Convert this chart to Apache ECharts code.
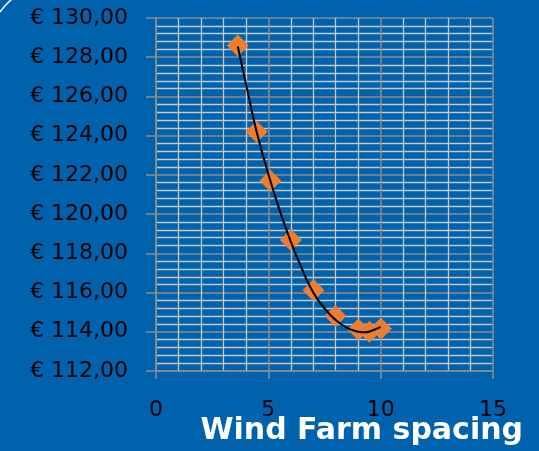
<!DOCTYPE html>
<html>
<head>
<meta charset="utf-8">
<style>
html,body{margin:0;padding:0;background:#0061AC;}
#c{width:539px;height:451px;}
</style>
<script src="https://cdn.jsdelivr.net/npm/echarts@6/dist/echarts.min.js"></script>
</head>
<body>
<div id="c"></div>
<script>
// Data
const spacing = [3.64, 4.48, 5.09, 6.0, 7.01, 7.99, 9.01, 9.5, 10.01];
const cost = [128.6, 124.2, 121.7, 118.68, 116.12, 114.8, 114.12, 114.0, 114.15];
// Trend line
const trendX = [3.64, 4.0, 4.48, 5.0, 5.5, 6.0, 6.5, 7.0, 7.5, 8.0, 8.5, 9.0, 9.3, 9.6, 10.0];
const trendY = [128.55, 126.66, 124.2, 122.05, 120.2, 118.6, 117.2, 116.0, 115.2, 114.6, 114.2, 114.0, 113.97, 114.05, 114.25];
const xTicks = [0, 5, 10, 15];
const yMin = 112, yMax = 130, yStep = 2;
const xTitle = 'Wind Farm spacing';

const chart = echarts.init(document.getElementById('c'), null, {renderer: 'canvas'});
const labelFont = 'DejaVu Sans';
chart.setOption({
  backgroundColor: '#0061AC',
  animation: false,
  grid: {left: 156, right: 46, top: 18, bottom: 80, containLabel: false},
  xAxis: {
    type: 'value', min: xTicks[0], max: xTicks[xTicks.length - 1], interval: 5,
    axisLine: {show: true, lineStyle: {color: '#8C8C8C', width: 1.5}},
    axisTick: {show: true, length: 8, lineStyle: {color: '#8C8C8C', width: 1.5}},
    axisLabel: {color: '#000', fontSize: 22, fontFamily: labelFont, margin: 28},
    splitLine: {show: true, lineStyle: {color: '#8C8C8C', width: 1.5}},
    minorTick: {show: false, splitNumber: 5},
    minorSplitLine: {show: true, lineStyle: {color: '#C8C8C8', width: 1.3}}
  },
  yAxis: {
    type: 'value', min: yMin, max: yMax, interval: yStep,
    axisLine: {show: true, lineStyle: {color: '#8C8C8C', width: 1.5}},
    axisTick: {show: true, length: 10, lineStyle: {color: '#8C8C8C', width: 1.5}},
    axisLabel: {color: '#000', fontSize: 22, fontFamily: labelFont, margin: 28,
      formatter: v => '€ ' + v.toFixed(2).replace('.', ',')},
    splitLine: {show: true, lineStyle: {color: '#8C8C8C', width: 1.5}},
    minorTick: {show: false, splitNumber: 5},
    minorSplitLine: {show: true, lineStyle: {color: '#C8C8C8', width: 1.3}}
  },
  graphic: [
    {type: 'text', right: 16, top: 416,
      style: {text: xTitle, fill: '#fff', font: 'bold 30px "DejaVu Sans"'}},
    {type: 'bezierCurve', shape: {x1: 0, y1: 12, x2: 12, y2: -1, cpx1: 4, cpy1: 6},
      style: {stroke: '#fff', lineWidth: 1.5, fill: 'none'}}
  ],
  series: [
    {type: 'line', data: trendX.map((x, i) => [x, trendY[i]]), smooth: true,
      showSymbol: false, lineStyle: {color: '#000', width: 2}, z: 3},
    {type: 'scatter', data: spacing.map((x, i) => [x, cost[i]]), symbol: 'diamond',
      symbolSize: [22, 22], itemStyle: {color: '#ED7D31', opacity: 1}, z: 2}
  ]
});
</script>
</body>
</html>
